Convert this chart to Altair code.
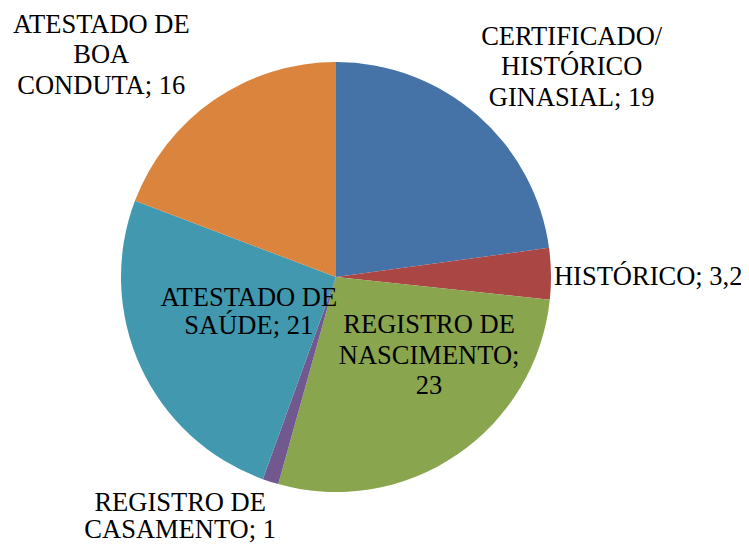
import altair as alt
import pandas as pd

categories = ["CERTIFICADO/ HISTÓRICO GINASIAL", "HISTÓRICO", "REGISTRO DE NASCIMENTO",
              "REGISTRO DE CASAMENTO", "ATESTADO DE SAÚDE", "ATESTADO DE BOA CONDUTA"]
values = [19, 3.2, 23, 1, 21, 16]
label_lines = [
    ["CERTIFICADO/", "HISTÓRICO", "GINASIAL; 19"],
    ["HISTÓRICO; 3,2"],
    ["REGISTRO DE", "NASCIMENTO;", "23"],
    ["REGISTRO DE", "CASAMENTO; 1"],
    ["ATESTADO DE", "SAÚDE; 21"],
    ["ATESTADO DE", "BOA", "CONDUTA; 16"],
]
colors = ["#4572A7", "#AA4643", "#89A54E", "#71588F", "#4198AF", "#DB843D"]

df = pd.DataFrame({
    "cat": categories,
    "value": values,
    "idx": list(range(len(categories))),
    "label": label_lines,
})

CX, CY = 328, 269
R = 215
LH = 30.5
FONT = "Liberation Serif"

base = alt.Chart(df).encode(
    theta=alt.Theta("value:Q", stack=True),
    order=alt.Order("idx:Q", sort="ascending"),
)

pie = base.mark_arc(radius=R, stroke=None).encode(
    color=alt.Color("cat:N", scale=alt.Scale(domain=categories, range=colors), legend=None),
    x=alt.value(CX), y=alt.value(CY),
)

lab_base = alt.Chart(df).transform_window(
    cum="sum(value)", sort=[alt.SortField("idx", order="ascending")]
).transform_joinaggregate(
    total="sum(value)"
).transform_calculate(
    mid="(datum.cum - datum.value / 2) / datum.total * 2 * PI"
)

# label placement: (radius, dx, dy, align, line height)
placement = [
    (290, 45, 9, "center", LH),
    (222, -4, 3, "left", LH),
    (123, 24, -23, "center", LH),
    (285, -69, -32, "center", 27.5),
    (96, 0, -5, "center", 28),
    (290, -70, 17, "center", LH),
]

layers = [pie]
for i, (r, dx, dy, al, lh) in enumerate(placement):
    n = len(label_lines[i])
    layers.append(
        lab_base.transform_filter(alt.datum.idx == i).mark_text(
            radius=r, dx=dx, dy=dy - (n - 1) / 2 * lh, align=al, baseline="middle",
            font=FONT, fontSize=26.5, lineHeight=lh, color="#000000",
        ).encode(
            theta=alt.Theta("mid:Q", scale=None, stack=None),
            text="label",
            x=alt.value(CX), y=alt.value(CY),
        )
    )

chart = alt.layer(*layers).properties(
    width=733, height=536, padding=0, autosize=alt.AutoSizeParams(type="none"),
).configure_view(stroke=None)

chart.save("out.html", embed_options={"renderer": "svg", "actions": False})
